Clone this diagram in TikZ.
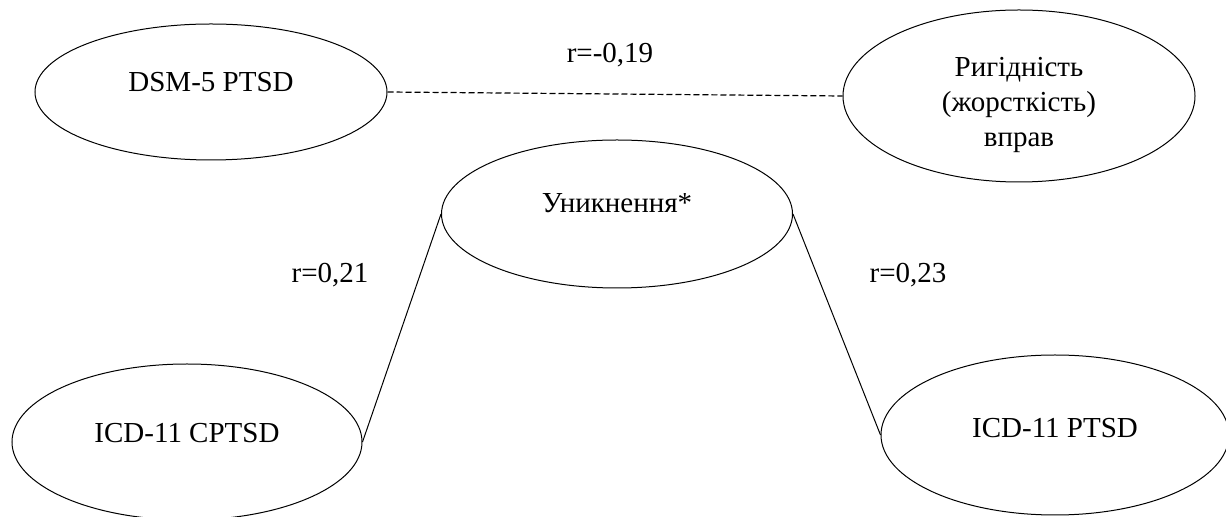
\documentclass[tikz,border=0pt]{standalone}
\usepackage{fontspec}
\setmainfont{Liberation Serif}
\usetikzlibrary{shapes.geometric}
\tikzset{every node/.style={font=\fontsize{14.5}{17.5}\selectfont}}

\begin{document}
\begin{tikzpicture}[
        x=0.5pt, y=-0.5pt,
        line width=0.5pt,
        oval/.style={draw, ellipse, inner sep=0pt, align=center},
        coef/.style={inner sep=1pt},
      ]
        \useasboundingbox (0,0) rectangle (1226,517);
        \node[oval, minimum width=176pt, minimum height=68pt, text depth=10pt] (dsm) at (211,92) {DSM-5 PTSD};
        \node[oval, minimum width=176pt, minimum height=86pt,
              label={[align=center, yshift=-4.5pt]center:Ригідність\\(жорсткість)\\вправ}] (rig) at (1019,96) {};
        \node[oval, minimum width=175.5pt, minimum height=74pt, text depth=11pt] (avo) at (617,214) {Уникнення*};
        \node[oval, minimum width=175pt, minimum height=78pt, text depth=9pt] (cptsd) at (187,442) {ICD-11 CPTSD};
        \node[oval, minimum width=174pt, minimum height=80pt, text depth=7pt] (ptsd) at (1055,435) {ICD-11 PTSD};
        \draw[dash pattern=on 3pt off 1.5pt, line width=0.6pt] (dsm.east) -- (rig.west);
        \draw (avo.west) -- (cptsd.east);
        \draw (avo.east) -- (ptsd.west);
        \node[coef] (r1) at (610,55) {r=-0,19};
        \node[coef] (r2) at (330,275) {r=0,21};
        \node[coef] (r3) at (908,275) {r=0,23};
      \end{tikzpicture}
\end{document}
